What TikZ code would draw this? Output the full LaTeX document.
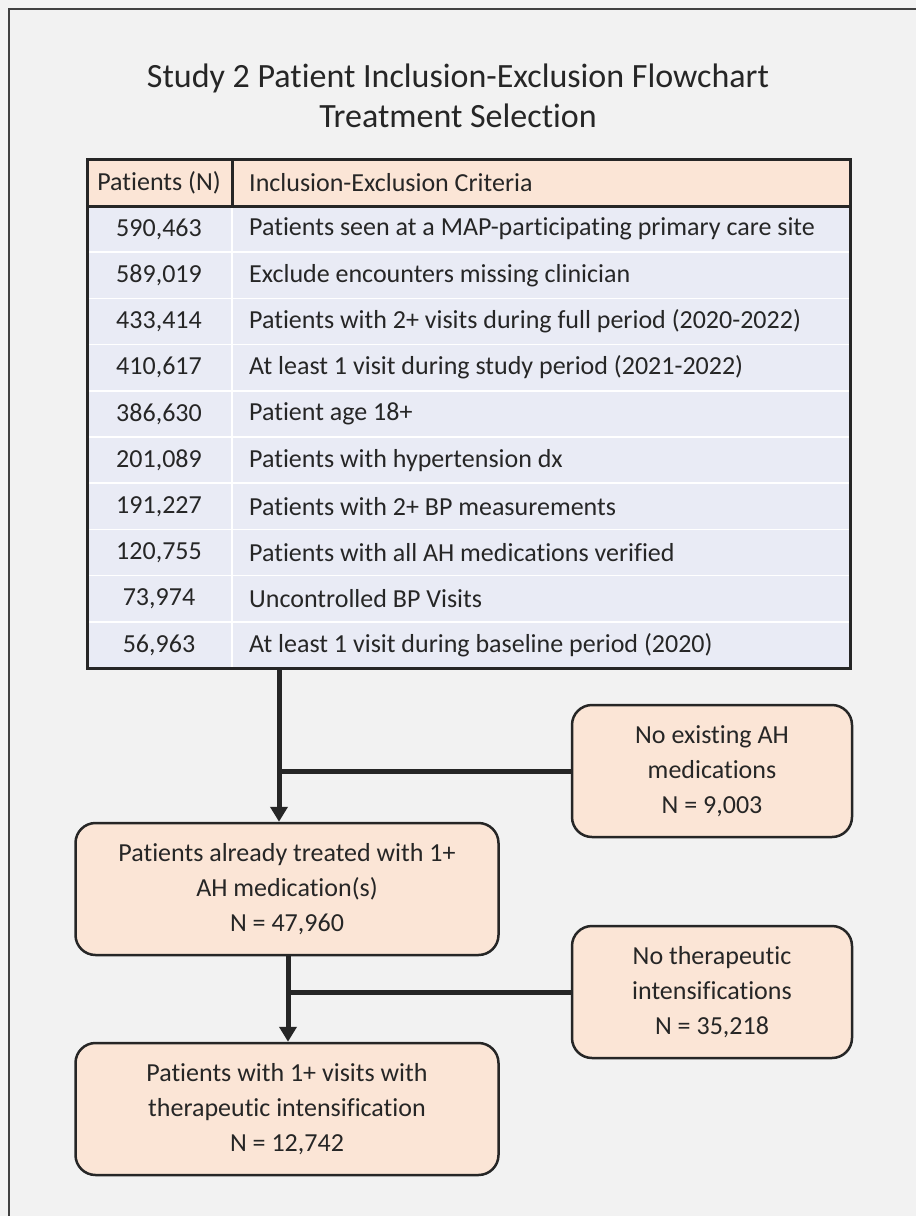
\documentclass[tikz,border=0pt]{standalone}
\usepackage{fontspec}
\setmainfont{Carlito}[Ligatures=NoCommon]
\usetikzlibrary{arrows.meta}
\definecolor{bg}{HTML}{F2F2F2}
\definecolor{peach}{HTML}{FBE5D6}
\definecolor{rowc}{HTML}{E9EBF5}
\definecolor{ink}{HTML}{262626}
\definecolor{frame}{HTML}{404040}
\begin{document}
\begin{tikzpicture}[x=1pt,y=-1pt,
  txt/.style={font=\fontsize{26}{35}\selectfont, text=ink, inner sep=0pt},
  flowbox/.style={draw=ink, line width=2.5pt, fill=peach, rounded corners=20pt,
    align=center, inner sep=0pt, font=\fontsize{26}{35}\selectfont, text=ink},
  flowarrow/.style={draw=ink, line width=5pt, -{Triangle[width=17pt,length=15pt]}},
  flowline/.style={draw=ink, line width=5pt}]
\fill[bg] (0,0) rectangle (916,1216);
\useasboundingbox (0,0) rectangle (916,1216);
\draw[frame, line width=2pt] (9,1216) -- (9,9) -- (916,9);
% title
\node[font=\fontsize{34}{40}\selectfont, text=ink, align=center] (title) at (458,96)
  {Study 2 Patient Inclusion-Exclusion Flowchart\\Treatment Selection};
% table fills
\fill[peach] (87,159) rectangle (850,206);
\fill[rowc] (87,206) rectangle (850,668);
\foreach \i in {1,...,9} {
  \draw[white, line width=1.5pt] (87,{206+\i*46.2}) -- (850,{206+\i*46.2});
}
\draw[white, line width=1.5pt] (232,206) -- (232,668);
\draw[ink, line width=3pt] (232,159) -- (232,206);
\draw[ink, line width=3pt] (87,206) -- (850,206);
\node[draw=ink, line width=3pt, minimum width=763pt, minimum height=509pt, inner sep=0pt] (tbl) at (468.5,413.5) {};
% header
\node[txt] (h1) at (159,183) {Patients (N)};
\node[txt, anchor=west] (h2) at (249,183) {Inclusion-Exclusion Criteria};
% rows
\foreach \n/\t [count=\k] in {
  590{,}463/Patients seen at a MAP-participating primary care site,
  589{,}019/Exclude encounters missing clinician,
  433{,}414/Patients with 2+ visits during full period (2020-2022),
  410{,}617/At least 1 visit during study period (2021-2022),
  386{,}630/Patient age 18+,
  201{,}089/Patients with hypertension dx,
  191{,}227/Patients with 2+ BP measurements,
  120{,}755/Patients with all AH medications verified,
  73{,}974/Uncontrolled BP Visits,
  56{,}963/At least 1 visit during baseline period (2020)} {
  \node[txt] (n\k) at (159,{206+(\k-0.5)*46.2}) {\n};
  \node[txt, anchor=west] (c\k) at (249,{206+(\k-0.5)*46.2}) {\t};
}
% flow boxes
\node[flowbox, minimum width=423pt, minimum height=132pt] (treated) at (287,889)
  {Patients already treated with 1+\\AH medication(s)\\N = 47,960};
\node[flowbox, minimum width=280pt, minimum height=132pt] (noah) at (712,771)
  {No existing AH\\medications\\N = 9,003};
\node[flowbox, minimum width=280pt, minimum height=132pt] (noti) at (712,992)
  {No therapeutic\\intensifications\\N = 35,218};
\node[flowbox, minimum width=423pt, minimum height=132pt] (intens) at (287,1109)
  {Patients with 1+ visits with\\therapeutic intensification\\N = 12,742};
% connectors
\coordinate (j1) at (279,771);
\draw[flowarrow] (tbl.south -| j1) -- (treated.north -| j1);
\draw[flowline] (noah.west) -- (j1);
\coordinate (j2) at (288,992);
\draw[flowarrow] (treated.south -| j2) -- (intens.north -| j2);
\draw[flowline] (noti.west) -- (j2);
\end{tikzpicture}
\end{document}
